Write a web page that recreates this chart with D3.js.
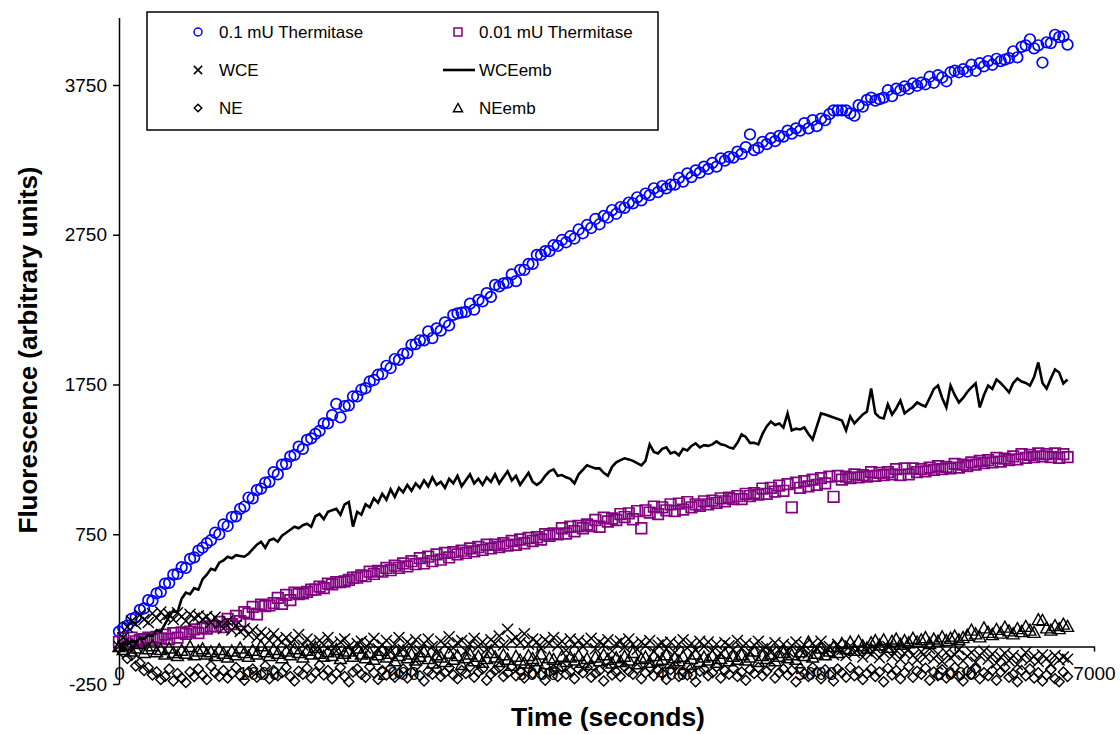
<!DOCTYPE html>
<html>
<head>
<meta charset="utf-8">
<style>
  body { margin: 0; background: #fff; }
  svg { font-family: "Liberation Sans", Arial, sans-serif; }
  .axis .domain, .axis line { stroke: #000; stroke-width: 1.5px; }
  .axis text { font-size: 19px; fill: #000; }
</style>
</head>
<body>
<svg id="chart" width="1120" height="734"></svg>
<script src="https://cdnjs.cloudflare.com/ajax/libs/d3/7.8.5/d3.min.js"></script>
<script>
// sample times (s)
var times = [
0,30,60,90,120,150,180,210,240,270,
300,330,360,390,420,450,480,510,540,570,
600,630,660,690,720,750,780,810,840,870,
900,930,960,990,1020,1050,1080,1110,1140,1170,
1200,1230,1260,1290,1320,1350,1380,1410,1440,1470,
1500,1530,1560,1590,1620,1650,1680,1710,1740,1770,
1800,1830,1860,1890,1920,1950,1980,2010,2040,2070,
2100,2130,2160,2190,2220,2250,2280,2310,2340,2370,
2400,2430,2460,2490,2520,2550,2580,2610,2640,2670,
2700,2730,2760,2790,2820,2850,2880,2910,2940,2970,
3000,3030,3060,3090,3120,3150,3180,3210,3240,3270,
3300,3330,3360,3390,3420,3450,3480,3510,3540,3570,
3600,3630,3660,3690,3720,3750,3780,3810,3840,3870,
3900,3930,3960,3990,4020,4050,4080,4110,4140,4170,
4200,4230,4260,4290,4320,4350,4380,4410,4440,4470,
4500,4530,4560,4590,4620,4650,4680,4710,4740,4770,
4800,4830,4860,4890,4920,4950,4980,5010,5040,5070,
5100,5130,5160,5190,5220,5250,5280,5310,5340,5370,
5400,5430,5460,5490,5520,5550,5580,5610,5640,5670,
5700,5730,5760,5790,5820,5850,5880,5910,5940,5970,
6000,6030,6060,6090,6120,6150,6180,6210,6240,6270,
6300,6330,6360,6390,6420,6450,6480,6510,6540,6570,
6600,6630,6660,6690,6720,6750,6780,6810
];

var thermitase01 = [
100,125,140,185,195,245,255,310,305,355,
365,420,425,480,485,530,525,585,595,640,
660,690,710,760,750,815,805,865,870,920,
935,995,990,1045,1055,1095,1100,1165,1150,1215,
1220,1270,1280,1335,1320,1380,1390,1420,1440,1490,
1490,1545,1620,1530,1605,1610,1670,1670,1715,1725,
1770,1780,1815,1820,1875,1860,1920,1915,1955,1960,
2015,2020,2045,2045,2105,2060,2125,2110,2165,2145,
2215,2225,2230,2235,2290,2250,2315,2305,2360,2335,
2415,2405,2425,2430,2485,2440,2515,2515,2555,2555,
2615,2615,2640,2640,2680,2675,2715,2700,2740,2725,
2785,2760,2815,2795,2855,2820,2875,2865,2915,2890,
2935,2930,2965,2960,3000,2980,3025,3015,3060,3035,
3075,3060,3085,3085,3130,3105,3160,3135,3180,3165,
3205,3190,3230,3205,3260,3245,3270,3265,3305,3290,
3335,3420,3315,3330,3370,3355,3395,3375,3410,3405,
3445,3425,3460,3445,3495,3460,3515,3475,3525,3515,
3555,3580,3580,3580,3580,3560,3545,3615,3605,3650,
3665,3645,3655,3665,3715,3675,3725,3715,3740,3725,
3760,3745,3765,3755,3805,3765,3815,3800,3775,3835,
3845,3835,3855,3840,3885,3845,3895,3875,3910,3885,
3925,3910,3920,3930,3975,3935,4005,4015,4055,3995,
4015,3900,4035,4030,4085,4070,4075,4020
];

var thermitase001 = [
30,55,20,60,35,45,50,60,45,65,
55,80,50,90,60,95,85,100,115,90,
125,120,135,135,165,130,185,150,205,170,
230,220,265,215,280,270,275,290,325,285,
345,310,360,350,355,365,380,380,400,390,
420,415,430,430,435,445,460,460,475,470,
500,485,505,500,525,510,540,525,555,535,
570,550,590,555,600,570,615,580,625,595,
630,615,640,625,655,635,665,645,680,655,
680,665,690,675,705,680,715,690,725,705,
730,715,750,740,755,750,790,755,800,770,
805,790,815,805,845,800,860,835,855,845,
885,865,890,850,905,790,910,895,935,885,
930,910,950,905,955,915,965,930,950,940,
970,950,975,960,990,970,995,985,1005,985,
1020,1005,1025,1015,1055,1020,1060,1035,1075,1040,
1085,930,1095,1060,1105,1070,1115,1080,1125,1090,
1135,1000,1140,1115,1135,1125,1150,1130,1145,1135,
1165,1140,1160,1145,1165,1150,1185,1145,1190,1150,
1190,1165,1185,1170,1195,1180,1205,1185,1200,1190,
1220,1195,1215,1205,1230,1215,1240,1225,1245,1230,
1260,1235,1255,1245,1270,1250,1285,1260,1280,1265,
1290,1270,1285,1265,1290,1260,1285,1265
];

var wce = [
0,60,130,170,150,210,180,160,220,190,
230,200,215,180,225,200,170,215,190,205,
180,200,160,195,150,120,170,110,140,100,
120,80,110,60,95,70,40,85,50,30,
60,20,45,80,10,50,25,-20,40,10,
60,15,-30,30,50,0,-40,20,35,-10,
25,55,-15,10,40,-35,15,60,-20,30,
5,45,-25,20,50,0,-45,35,10,65,
-10,25,40,-30,15,55,0,30,-20,45,
20,70,10,115,40,60,25,85,15,50,
30,-10,45,20,60,5,35,-25,50,10,
40,0,25,55,-15,30,10,45,-30,20,
35,-5,50,15,-20,30,5,40,-35,10,
25,-15,30,-40,15,45,-10,20,-25,35,
0,30,-30,15,-45,25,5,-20,40,-10,
20,-35,10,35,-15,0,-40,25,-20,15,
-30,5,30,-25,10,-45,20,-10,35,-35,
0,-55,15,-20,-60,5,-40,-15,-70,-30,
-50,-10,-75,-40,0,-65,-25,-85,-45,-20,
-60,-90,-35,-70,-15,-80,-50,-100,-40,-75,
-55,-20,-95,-65,-40,-105,-60,-30,-85,-50,
-110,-70,-45,-95,-60,-120,-75,-40,-90,-65,
-100,-55,-80,-115,-60,-90,-70,-85
];

var wceEmb = [
0,20,10,40,30,60,50,80,70,110,
100,150,200,240,230,320,360,350,390,380,
450,480,520,510,560,575,600,590,610,605,
600,620,650,680,700,660,710,720,700,740,
760,780,800,790,810,820,800,870,885,850,
900,910,920,880,950,965,800,900,880,950,
930,990,960,1020,980,1050,1000,1060,1030,1080,
1040,1090,1060,1110,1070,1130,1080,1100,1060,1120,
1090,1140,1070,1110,1150,1090,1120,1080,1130,1100,
1150,1090,1130,1170,1110,1140,1080,1120,1160,1100,
1080,1100,1140,1170,1183,1140,1145,1130,1120,1090,
1150,1180,1210,1200,1190,1190,1160,1140,1200,1230,
1245,1257,1250,1240,1225,1210,1240,1350,1300,1290,
1320,1330,1290,1300,1277,1320,1310,1340,1357,1330,
1345,1340,1350,1370,1350,1345,1330,1323,1360,1417,
1400,1360,1360,1350,1420,1470,1503,1480,1490,1463,
1557,1443,1455,1450,1463,1420,1383,1470,1557,1550,
1540,1530,1520,1510,1443,1537,1490,1520,1550,1570,
1723,1557,1530,1523,1617,1550,1590,1643,1557,1580,
1600,1630,1615,1603,1660,1720,1743,1660,1597,1743,
1680,1630,1660,1700,1730,1757,1597,1680,1743,1720,
1783,1760,1730,1697,1760,1790,1770,1760,1743,1800,
1897,1760,1723,1790,1850,1830,1757,1783
];

var ne = [
-10,-40,-80,-60,-130,-110,-160,-140,-190,-170,
-220,-200,-150,-230,-180,-210,-240,-170,-200,-150,
-190,-220,-130,-175,-200,-160,-210,-180,-140,-195,
-225,-170,-150,-205,-185,-130,-215,-160,-195,-175,
-140,-200,-230,-165,-185,-145,-210,-175,-125,-190,
-160,-215,-180,-140,-200,-235,-170,-150,-185,-205,
-135,-175,-220,-160,-190,-145,-205,-180,-150,-210,
-170,-130,-195,-230,-165,-185,-150,-200,-175,-140,
-190,-215,-160,-180,-135,-205,-170,-150,-225,-185,
-160,-140,-200,-175,-130,-195,-165,-210,-150,-180,
-145,-190,-225,-170,-155,-200,-135,-185,-165,-215,
-150,-175,-140,-205,-180,-160,-230,-145,-190,-170,
-200,-135,-165,-185,-150,-215,-175,-140,-195,-160,
-180,-220,-155,-130,-200,-170,-190,-145,-235,-165,
-150,-195,-175,-135,-210,-160,-185,-145,-200,-170,
-225,-155,-180,-140,-195,-165,-130,-210,-175,-150,
-190,-160,-235,-145,-180,-200,-140,-170,-215,-155,
-185,-230,-150,-175,-205,-140,-195,-165,-220,-180,
-150,-200,-170,-235,-145,-190,-160,-215,-175,-135,
-205,-165,-185,-145,-225,-170,-195,-155,-210,-180,
-140,-200,-230,-165,-185,-150,-215,-175,-195,-160,
-225,-170,-140,-205,-185,-235,-160,-195,-150,-210,
-175,-230,-190,-155,-215,-235,-170,-200
];

var neEmb = [
0,-20,10,-30,-10,20,-40,-15,5,-35,
-20,-50,-10,-40,-60,-25,-45,0,-55,-30,
-15,-50,-35,-60,-20,-45,-70,-30,-55,-10,
-40,-65,-25,-50,5,-35,-60,-20,-45,-75,
-30,-55,-15,-40,-70,-25,-50,-5,-45,-65,
-35,-60,-20,-80,-45,-30,-65,-10,-50,-75,
-40,-85,-55,-25,-70,-45,-95,-60,-30,-75,
-50,-90,-65,-35,-80,-110,-55,-70,-100,-45,
-85,-60,-120,-75,-50,-95,-65,-105,-80,-40,
-70,-100,-55,-85,-125,-65,-90,-110,-60,-80,
-95,-50,-115,-75,-85,-130,-65,-100,-70,-90,
-60,-105,-80,-120,-70,-95,-55,-85,-110,-75,
-100,-65,-90,-40,-115,-80,-70,-105,-60,-95,
-85,-55,-110,-75,-95,-65,-120,-80,-50,-100,
-70,-90,-60,-105,-80,-45,-95,-65,-85,-55,
-90,-70,-30,-100,-60,-80,-50,-95,-65,-40,
-75,-55,-85,-35,-60,30,-70,-45,-10,-55,
-30,0,-40,20,-15,30,-25,35,5,-10,
25,40,10,45,-5,35,50,15,40,25,
55,30,45,60,20,50,35,65,40,55,
70,45,60,75,110,85,65,125,95,80,
115,90,130,105,85,120,100,135,110,95,
180,175,125,110,140,120,150,135
];

var xTicks = [0, 1000, 2000, 3000, 4000, 5000, 6000, 7000];
var yTicks = [-250, 750, 1750, 2750, 3750];

var svg = d3.select("#chart");

var x = d3.scaleLinear().domain([0, 7000]).range([119, 1094]);
var y = d3.scaleLinear().domain([-250, 4200]).range([684, 17.6]);

function plain(d) { return String(d); }

// axes
svg.append("g")
    .attr("class", "y axis")
    .attr("transform", "translate(119,0)")
    .call(d3.axisLeft(y).tickValues(yTicks).tickFormat(plain).tickSize(6).tickSizeOuter(0).tickPadding(6));

svg.append("g")
    .attr("class", "x axis")
    .attr("transform", "translate(0," + y(0) + ")")
    .call(d3.axisBottom(x).tickValues(xTicks).tickFormat(plain).tickSize(5).tickSizeOuter(0).tickPadding(15));

svg.append("text")
    .attr("x", 608).attr("y", 726)
    .attr("text-anchor", "middle")
    .style("font-size", "26.5px").style("font-weight", "bold")
    .text("Time (seconds)");

svg.append("text")
    .attr("transform", "translate(37,350) rotate(-90)")
    .attr("text-anchor", "middle")
    .style("font-size", "26px").style("font-weight", "bold")
    .text("Fluorescence (arbitrary units)");

// marker shapes
var shapes = {
  circle: "M5.3,0A5.3,5.3 0 1,1 -5.3,0A5.3,5.3 0 1,1 5.3,0Z",
  square: "M-5.3,-5.3H5.3V5.3H-5.3Z",
  cross: "M-5.5,-5.5L5.5,5.5M-5.5,5.5L5.5,-5.5",
  diamond: "M0,-5L5,0L0,5L-5,0Z",
  triangle: "M0,-6L6,5H-6Z"
};

function scatter(values, shape, color, width) {
  svg.append("g").selectAll("path")
      .data(values)
    .enter().append("path")
      .attr("transform", function(d, i) { return "translate(" + x(times[i]) + "," + y(d) + ")"; })
      .attr("d", shapes[shape])
      .attr("fill", "none")
      .attr("stroke", color)
      .attr("stroke-width", width);
}

scatter(thermitase01, "circle", "#0000ff", 1.7);
scatter(thermitase001, "square", "#800080", 1.7);
scatter(wce, "cross", "#000", 1.4);

svg.append("path")
    .datum(wceEmb)
    .attr("fill", "none")
    .attr("stroke", "#000")
    .attr("stroke-width", 2.6)
    .attr("d", d3.line().x(function(d, i) { return x(times[i]); }).y(function(d) { return y(d); }));

scatter(ne, "diamond", "#000", 1.4);
scatter(neEmb, "triangle", "#000", 1.4);

// legend
var legend = svg.append("g");
legend.append("rect")
    .attr("x", 147).attr("y", 12).attr("width", 511).attr("height", 118)
    .attr("fill", "#fff").attr("stroke", "#000").attr("stroke-width", 1.5);

var legendItems = [
  {label: "0.1 mU Thermitase", shape: "circle", color: "#0000ff", col: 0, row: 0},
  {label: "0.01 mU Thermitase", shape: "square", color: "#800080", col: 1, row: 0},
  {label: "WCE", shape: "cross", color: "#000", col: 0, row: 1},
  {label: "WCEemb", shape: "line", color: "#000", col: 1, row: 1},
  {label: "NE", shape: "diamond", color: "#000", col: 0, row: 2},
  {label: "NEemb", shape: "triangle", color: "#000", col: 1, row: 2}
];
var colX = [198, 458], rowY = [32, 70, 108];

legendItems.forEach(function(d) {
  var cx = colX[d.col], cy = rowY[d.row];
  if (d.shape === "line") {
    legend.append("line")
        .attr("x1", cx - 15).attr("x2", cx + 17).attr("y1", cy).attr("y2", cy)
        .attr("stroke", "#000").attr("stroke-width", 2.6);
  } else {
    legend.append("path")
        .attr("transform", "translate(" + cx + "," + cy + ") scale(0.75)")
        .attr("d", shapes[d.shape])
        .attr("fill", "none").attr("stroke", d.color).attr("stroke-width", 2);
  }
  legend.append("text")
      .attr("x", cx + 21).attr("y", cy + 6)
      .style("font-size", "17px")
      .text(d.label);
});
</script>
</body>
</html>
